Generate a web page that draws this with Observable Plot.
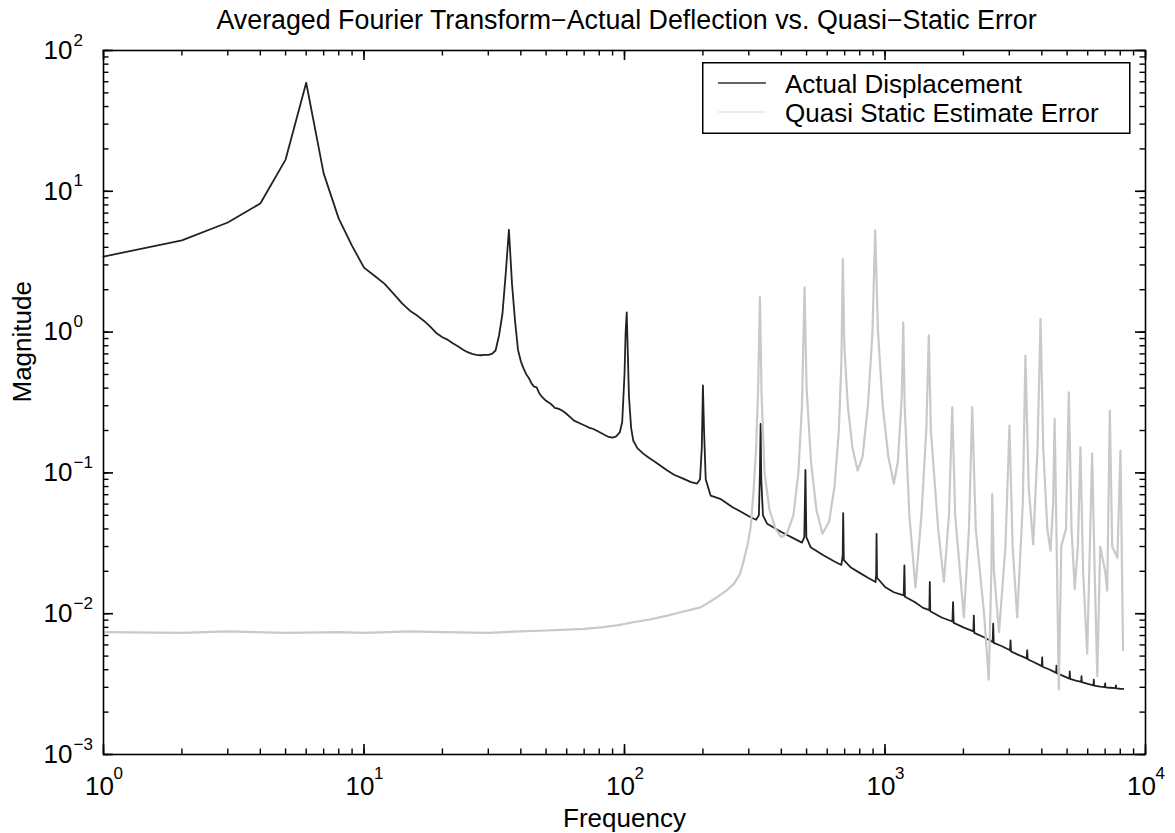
<!DOCTYPE html>
<html><head><meta charset="utf-8">
<script src="https://cdn.jsdelivr.net/npm/d3@7"></script>
<script src="https://cdn.jsdelivr.net/npm/@observablehq/plot@0.6"></script>
<style>
body{margin:0;background:#fff;font-family:"Liberation Sans",Arial,Helvetica,sans-serif;}
#wrap{position:relative;width:1175px;height:833px;}
#legend{position:absolute;left:702px;top:62px;}
</style></head><body><div id="wrap"></div>
<script>
// ---- data ----
const actualFreq = [1,2,3,4,5,6,7,8,9,10,11,12,13,14,15,16,17,18,19,20,21,22,23,24,25,26,27,28,29,30,31,32,33,34,35,36,37,38,39,40,41,42,43,44,45,46,47,48,50,52,53,54,56,58,60,62,64,67,70,73,76,80,84,87,90,93,96,98,100,101,102,103,104,106,108,112,118,124,130,138,146,155,168,180,190,195,198,200,202,205,214,233,260,280,305,320,328,331,333,335,340,353,400,450,480,490,495,499,518,580,640,680,688,691,695,737,800,860,920,925,928,932,1000,1081,1180,1187,1193,1300,1400,1480,1486,1492,1650,1815,1825,1835,2000,2185,2193,2202,2400,2590,2602,2615,2800,3020,3033,3046,3250,3500,3515,3530,3750,4000,4012,4025,4300,4540,4552,4565,4850,5105,5120,5135,5400,5665,5680,5695,6000,6315,6332,6350,6700,6980,7000,7020,7300,7680,7700,7720,8000,8210];
const actualMag = [3.44,4.48,6.0,8.2,16.8,59,13.4,6.4,4.1,2.87,2.5,2.2,1.87,1.6,1.42,1.31,1.2,1.09,0.98,0.92,0.88,0.83,0.79,0.75,0.72,0.70,0.69,0.685,0.69,0.69,0.70,0.74,0.95,1.35,2.6,5.33,2.2,1.2,0.75,0.62,0.55,0.5,0.47,0.43,0.41,0.405,0.37,0.35,0.325,0.31,0.30,0.29,0.285,0.275,0.262,0.248,0.235,0.226,0.218,0.21,0.205,0.195,0.186,0.18,0.178,0.182,0.195,0.23,0.5,1.0,1.38,0.7,0.35,0.21,0.17,0.15,0.137,0.128,0.121,0.112,0.104,0.097,0.091,0.086,0.084,0.09,0.15,0.418,0.2,0.09,0.069,0.0655,0.057,0.053,0.0484,0.0465,0.05,0.1,0.223,0.09,0.05,0.0435,0.038,0.034,0.032,0.035,0.105,0.035,0.0297,0.026,0.0235,0.0222,0.026,0.0518,0.024,0.0214,0.0195,0.018,0.0168,0.019,0.0369,0.018,0.0155,0.0142,0.0135,0.022,0.0132,0.0121,0.011,0.0106,0.0168,0.0104,0.0094,0.0088,0.0121,0.0086,0.008,0.0075,0.0097,0.0073,0.0068,0.0063,0.0085,0.0062,0.0059,0.0055,0.00646,0.0054,0.0051,0.00482,0.0055,0.00475,0.0045,0.00424,0.0049,0.0042,0.004,0.0038,0.00428,0.00378,0.0036,0.00346,0.0039,0.00344,0.00335,0.00328,0.0036,0.00326,0.00318,0.0031,0.0034,0.00309,0.00303,0.00301,0.0032,0.003,0.00298,0.00296,0.0031,0.00295,0.00293,0.00292];

const errorFreq = [1,2,3,5,8,10,15,20,30,40,50,60,70,81,95,108,125,146,170,196,215,227,245,263,277,287,297,305,313,320,326,331,336,345,360,380,400,420,445,465,480,491,500,520,545,575,610,640,665,680,689,698,720,750,785,820,860,895,917,940,980,1030,1081,1120,1160,1175,1190,1240,1309,1380,1440,1473,1500,1600,1683,1760,1812,1860,2008,2100,2162,2230,2400,2502,2560,2580,2620,2740,2900,3005,3090,3217,3380,3460,3560,3706,3850,3955,4050,4200,4317,4420,4478,4550,4650,4750,4950,5077,5200,5350,5500,5627,5760,5973,6100,6240,6380,6530,6700,7000,7130,7295,7450,7800,8015,8200];
const errorMag = [0.0074,0.0073,0.0075,0.0073,0.0074,0.0073,0.0075,0.0074,0.0073,0.0075,0.0076,0.0077,0.0078,0.0080,0.0083,0.0087,0.0091,0.0097,0.0104,0.0111,0.0123,0.0131,0.0145,0.0163,0.019,0.0239,0.031,0.041,0.075,0.15,0.4,1.77,0.35,0.1,0.055,0.04,0.035,0.037,0.05,0.1,0.3,2.08,0.4,0.12,0.055,0.037,0.045,0.08,0.2,0.6,3.3,0.8,0.3,0.15,0.104,0.13,0.3,1.0,5.27,1.0,0.3,0.13,0.084,0.12,0.35,1.17,0.3,0.05,0.0154,0.05,0.2,0.95,0.2,0.04,0.0168,0.05,0.293,0.05,0.0094,0.04,0.293,0.04,0.01,0.0034,0.02,0.071,0.02,0.0074,0.03,0.217,0.03,0.0094,0.06,0.68,0.08,0.031,0.15,1.24,0.15,0.04,0.028,0.06,0.242,0.04,0.0029,0.03,0.04,0.374,0.04,0.015,0.03,0.152,0.02,0.0052,0.025,0.137,0.02,0.0036,0.03,0.02,0.0146,0.277,0.03,0.025,0.144,0.0055];

const xMajor = [1,10,100,1000,10000];
const xExp = ["0","1","2","3","4"];
const yMajor = [0.001,0.01,0.1,1,10,100];
const yExp = ["\u22123","\u22122","\u22121","0","1","2"];
const xDomain = [1,10000];
const yDomain = [0.001,100];
const seriesNames = ["Actual Displacement","Quasi Static Estimate Error"];
const titleText = "Averaged Fourier Transform\u2212Actual Deflection vs. Quasi\u2212Static Error";
const xLabel = "Frequency";
const yLabel = "Magnitude";

// ---- build ----
const actual = actualFreq.map((f,i)=>({f, m: actualMag[i]}));
const error = errorFreq.map((f,i)=>({f, m: errorMag[i]}));
const xMinor = d3.scaleLog().domain(xDomain).ticks();
const yMinor = d3.scaleLog().domain(yDomain).ticks();

const W = 1175, H = 833, mt = 50, mr = 30, mb = 79, ml = 103;
const fw = W - ml - mr, fh = H - mt - mb;
const font = "Liberation Sans, Arial, Helvetica, sans-serif";

const chart = Plot.plot({
  width: W, height: H,
  marginTop: mt, marginRight: mr, marginBottom: mb, marginLeft: ml,
  style: {fontFamily: font, background: "#fff", color: "#000"},
  x: {type: "log", domain: xDomain, axis: null},
  y: {type: "log", domain: yDomain, axis: null},
  marks: [
    Plot.line(actual, {x: "f", y: "m", stroke: "#222", strokeWidth: 1.8}),
    Plot.line(error, {x: "f", y: "m", stroke: "#c9c9c9", strokeWidth: 2.2}),
    // ticks (inward, all four sides)
    Plot.tickX(xMinor, {x: d=>d, insetTop: fh-5.5, stroke: "#000", strokeWidth: 1.4}),
    Plot.tickX(xMinor, {x: d=>d, insetBottom: fh-5.5, stroke: "#000", strokeWidth: 1.4}),
    Plot.tickX(xMajor, {x: d=>d, insetTop: fh-10, stroke: "#000", strokeWidth: 1.6}),
    Plot.tickX(xMajor, {x: d=>d, insetBottom: fh-10, stroke: "#000", strokeWidth: 1.6}),
    Plot.tickY(yMinor, {y: d=>d, insetRight: fw-5.5, stroke: "#000", strokeWidth: 1.4}),
    Plot.tickY(yMinor, {y: d=>d, insetLeft: fw-5.5, stroke: "#000", strokeWidth: 1.4}),
    Plot.tickY(yMajor, {y: d=>d, insetRight: fw-10, stroke: "#000", strokeWidth: 1.6}),
    Plot.tickY(yMajor, {y: d=>d, insetLeft: fw-10, stroke: "#000", strokeWidth: 1.6}),
    Plot.frame({stroke: "#000", strokeWidth: 1.6}),
    // x tick labels
    Plot.text(xMajor, {x: d=>d, frameAnchor: "bottom", text: ()=>"10", dx: -4, dy: 40, lineAnchor: "bottom", fontSize: 26, fill: "#000"}),
    Plot.text(xMajor, {x: d=>d, frameAnchor: "bottom", text: (d,i)=>xExp[i], textAnchor: "start", dx: 10, dy: 24, lineAnchor: "bottom", fontSize: 17, fill: "#000"}),
    // y tick labels
    Plot.text(yMajor, {y: d=>d, frameAnchor: "left", text: ()=>"10", textAnchor: "end", dx: -31, fontSize: 26, fill: "#000"}),
    Plot.text(yMajor, {y: d=>d, frameAnchor: "left", text: (d,i)=>yExp[i], textAnchor: "start", dx: -30, dy: -5, lineAnchor: "bottom", fontSize: 17, fill: "#000"}),
    // titles
    Plot.text([titleText], {frameAnchor: "top", dy: -22, dx: 2, lineAnchor: "bottom", fontSize: 26.8, fill: "#000"}),
    Plot.text([xLabel], {frameAnchor: "bottom", dy: 72, lineAnchor: "bottom", fontSize: 26, fill: "#000"}),
    Plot.text([yLabel], {frameAnchor: "left", dx: -81, rotate: -90, fontSize: 26, fill: "#000"})
  ]
});
const wrap = document.getElementById("wrap");
wrap.appendChild(chart);

// ---- legend ----
const ns = "http://www.w3.org/2000/svg";
const lg = d3.select(wrap).append("svg").attr("id","legend")
  .attr("xmlns", ns).attr("width", 430).attr("height", 73);
lg.append("rect").attr("x",0.75).attr("y",0.75).attr("width",427).attr("height",70.5)
  .attr("fill","#fff").attr("stroke","#000").attr("stroke-width",1.5);
const legendColors = ["#333","#e6e6e6"];
const rowsY = [21, 50];
seriesNames.forEach((name,i)=>{
  lg.append("line").attr("x1",16).attr("x2",64).attr("y1",rowsY[i]).attr("y2",rowsY[i])
    .attr("stroke",legendColors[i]).attr("stroke-width",1.5);
  lg.append("text").attr("x",83).attr("y",rowsY[i]+10).attr("font-size",26)
    .attr("font-family",font).attr("fill","#000").text(name);
});
</script>
</body></html>
